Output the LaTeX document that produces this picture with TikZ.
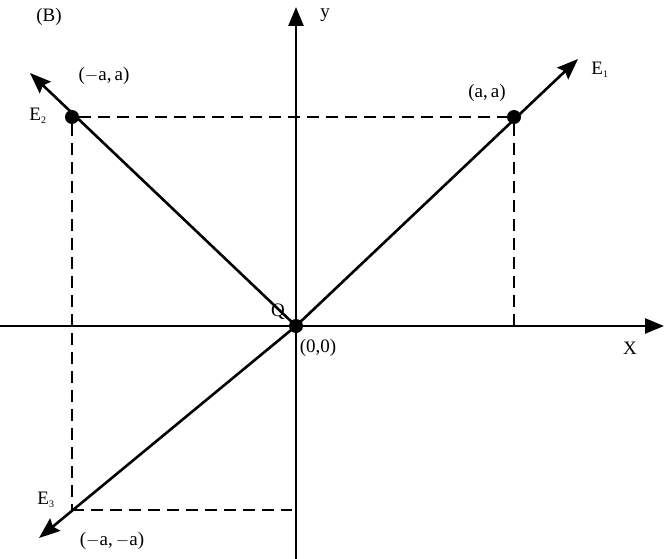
\documentclass[tikz,border=0pt]{standalone}
\usepackage{fontspec}
\setmainfont{Liberation Serif}
\usetikzlibrary{arrows.meta}
\begin{document}
\begin{tikzpicture}[x=1pt,y=-1pt,
  axis/.style={line width=2.6pt,-{Triangle[length=19pt,width=15pt]}},
  vec/.style={line width=2.6pt,-{Stealth[length=21pt,width=16pt,inset=3pt]}},
  guide/.style={line width=1.6pt,dash pattern=on 12pt off 7pt},
  dot/.style={circle,fill=black,inner sep=0pt,minimum size=14pt},
  lbl/.style={font=\fontsize{19}{22}\selectfont,inner sep=1pt},
  sub/.style={}]
\useasboundingbox (0,0) rectangle (664,559);
% points
\node[dot] (O) at (296,326) {};
\node[dot] (P1) at (514,117) {};
\node[dot] (P2) at (72,117) {};
\coordinate (P3) at (72,510);
\coordinate (xl) at (0,326);
\coordinate (xr) at (664,326);
\coordinate (yb) at (296,559);
\coordinate (yt) at (296,7);
\coordinate (t1) at (578,59);
\coordinate (t2) at (30,73);
\coordinate (t3) at (39,538);
\coordinate (ax) at (514,326);
\coordinate (ay) at (292,510);
% guides
\draw[guide] (P2) -- (P1);
\draw[guide] (P1) -- (ax);
\draw[guide] (P2) -- (P3);
\draw[guide] (P3) -- (ay);
% axes
\draw[axis] (xl) -- (xr);
\draw[axis] (yb) -- (yt);
% vectors
\draw[vec] (O.center) -- (t1);
\draw[vec] (O.center) -- (t2);
\draw[vec] (O.center) -- (t3);
% labels
\node[lbl] (B) at (49,17) {(B)};
\node[lbl] (ylab) at (325,15) {y};
\node[lbl] (xlab) at (630,348) {X};
\node[lbl] (e1) at (600,70) {E\textsubscript{\fontsize{10}{11}\selectfont 1}};
\node[lbl] (e2) at (38,116) {E\textsubscript{\fontsize{10}{11}\selectfont 2}};
\node[lbl] (e3) at (46,500) {E\textsubscript{\fontsize{10}{11}\selectfont 3}};
\node[lbl] (l1) at (487,93) {(a,\,a)};
\node[lbl] (l2) at (104,76) {($-$a,\,a)};
\node[lbl] (l3) at (112,541) {($-$a,\,$-$a)};
\node[lbl] (l0) at (318,348) {(0,0)};
\node[lbl] (q) at (278,312) {Q};
\end{tikzpicture}
\end{document}
